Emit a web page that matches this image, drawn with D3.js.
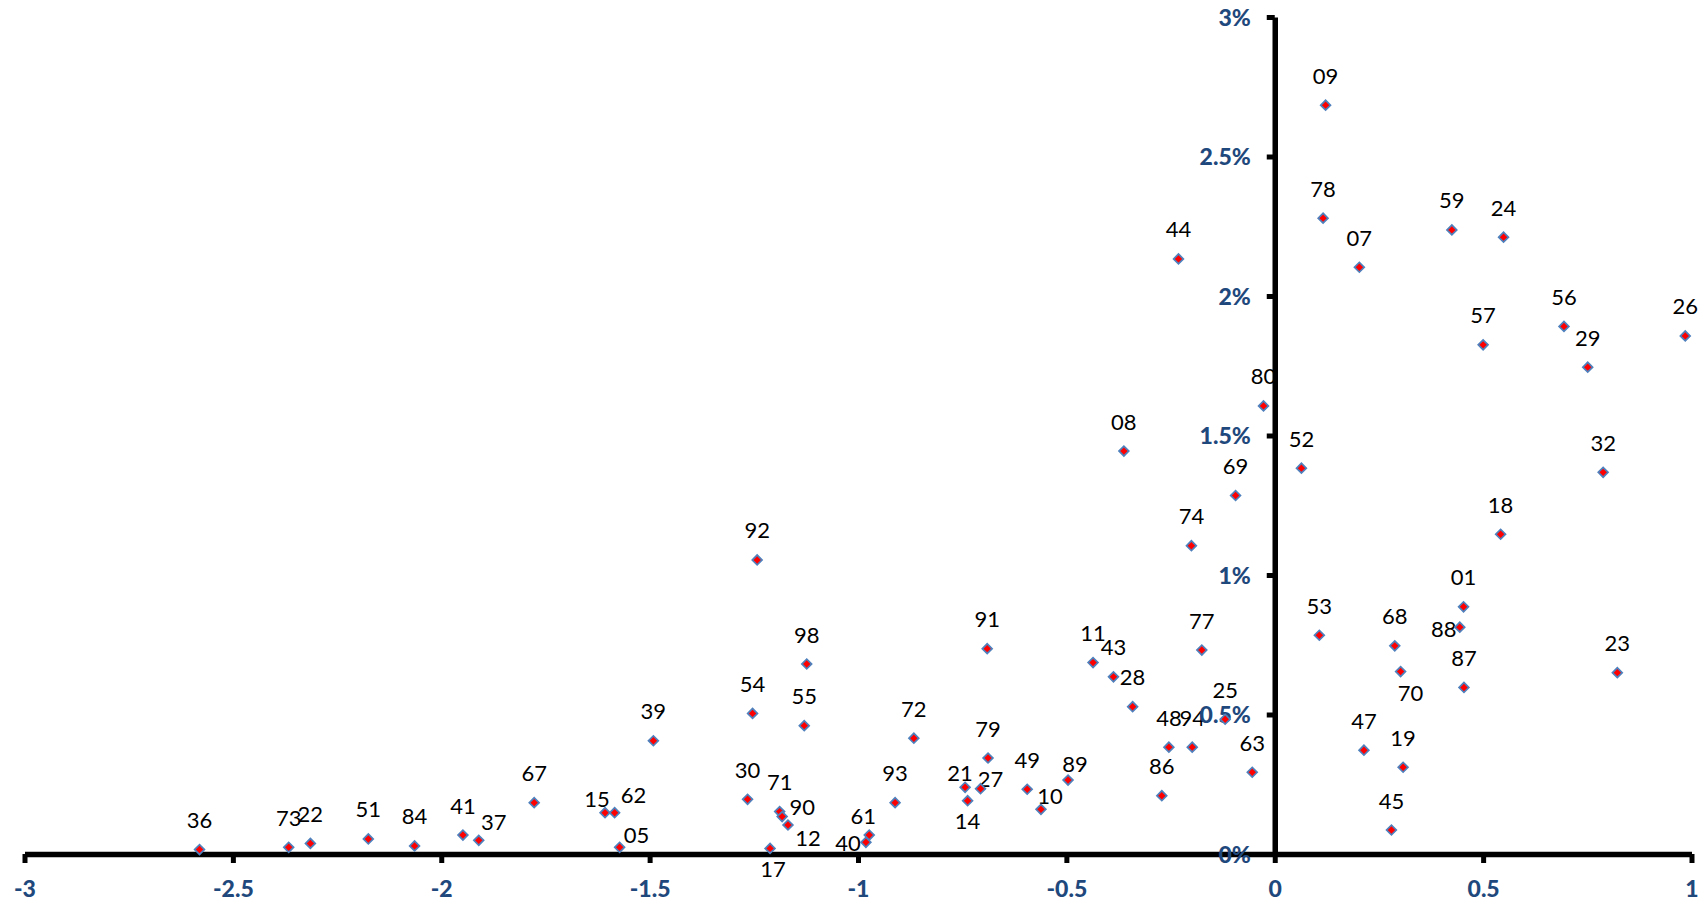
<!DOCTYPE html>
<html><head><meta charset="utf-8">
<script src="https://cdn.jsdelivr.net/npm/d3@7"></script>
<style>html,body{margin:0;padding:0;background:#fff;} svg{display:block;}</style>
</head><body>
<svg id="chart" width="1708" height="905"></svg>
<script>
// ---- data ----
const names = ["36","73","22","51","84","41","37","67","15","62","05","39","30","54","92","17","71","90","12","98","55","40","61","93","72","21","14","27","91","79","49","10","89","11","43","28","86","48","94","08","74","77","44","25","69","80","63","52","53","09","78","07","47","45","68","70","19","59","88","01","87","18","57","24","56","29","32","23","26"];
const xValues = [-2.580,-2.366,-2.314,-2.175,-2.064,-1.948,-1.910,-1.777,-1.607,-1.584,-1.572,-1.491,-1.265,-1.253,-1.242,-1.211,-1.188,-1.182,-1.168,-1.123,-1.129,-0.981,-0.973,-0.911,-0.866,-0.743,-0.737,-0.706,-0.690,-0.688,-0.594,-0.561,-0.496,-0.436,-0.387,-0.341,-0.271,-0.254,-0.198,-0.362,-0.200,-0.175,-0.231,-0.119,-0.094,-0.027,-0.054,0.064,0.107,0.122,0.116,0.203,0.214,0.280,0.288,0.302,0.308,0.425,0.444,0.453,0.454,0.542,0.500,0.549,0.694,0.751,0.788,0.822,0.985];
const yValues = [0.016,0.024,0.038,0.054,0.029,0.068,0.049,0.184,0.148,0.148,0.024,0.406,0.196,0.504,1.054,0.020,0.152,0.134,0.104,0.681,0.460,0.042,0.068,0.184,0.415,0.239,0.191,0.234,0.736,0.344,0.232,0.160,0.265,0.686,0.635,0.528,0.209,0.383,0.383,1.444,1.105,0.731,2.133,0.483,1.285,1.606,0.293,1.383,0.784,2.684,2.279,2.103,0.372,0.086,0.746,0.654,0.311,2.237,0.813,0.886,0.597,1.146,1.825,2.211,1.891,1.745,1.368,0.650,1.857];
const xTickValues = [-3,-2.5,-2,-1.5,-1,-0.5,0,0.5,1];
const xTickLabels = ["-3","-2.5","-2","-1.5","-1","-0.5","0","0.5","1"];
const yTickValues = [0,0.5,1,1.5,2,2.5,3];
const yTickLabels = ["0%","0.5%","1%","1.5%","2%","2.5%","3%"];

// ---- layout: data label placement (pixel offsets from marker) ----
const defaultShift = [0,-30];
const labelShift = {"17":[3,20],"12":[20,13],"90":[20,-10],"40":[-18,0],"61":[-6,-20],"21":[-5,-15],"27":[10,-10],"14":[0,20],"10":[9,-14],"89":[7,-17],"05":[17,-13],"62":[19,-18],"15":[-8,-14],"37":[15,-19],"70":[10,21],"88":[-16,1]};

const svg = d3.select("#chart");
svg.append("rect").attr("width",1708).attr("height",905).attr("fill","#fff");
const x = d3.scaleLinear().domain([-3,1]).range([24.5,1691.5]);
const y = d3.scaleLinear().domain([0,3]).range([854,17]);
const data = names.map((n,i)=>({name:n,x:xValues[i],y:yValues[i]}));
const shift = d => labelShift[d.name] || defaultShift;

// data labels
svg.append("g").selectAll("text").data(data).join("text")
  .attr("x", d=>x(d.x)+shift(d)[0])
  .attr("y", d=>y(d.y)+shift(d)[1])
  .attr("text-anchor","middle").attr("dominant-baseline","central")
  .style("font-family","Lato, 'Open Sans', sans-serif").style("font-size","22px").style("fill","#000")
  .text(d=>d.name);

const axisFont = g => g.style("font-family","Lato, 'Open Sans', sans-serif").style("font-size","23px").style("font-weight","900").attr("fill","#1F497D");

// x axis
const gx = svg.append("g").attr("transform",`translate(0,${y(0)})`)
  .call(d3.axisBottom(x).tickValues(xTickValues).tickFormat((d,i)=>xTickLabels[i]).tickSizeInner(9).tickSizeOuter(0));
gx.select(".domain").attr("stroke","#000").attr("stroke-width",5.5);
gx.selectAll(".tick line").attr("stroke","#000").attr("stroke-width",5);
gx.selectAll(".tick text").attr("y",35).attr("dy","0.35em").call(axisFont);

// y axis
const gy = svg.append("g").attr("transform",`translate(${x(0)},0)`)
  .call(d3.axisLeft(y).tickValues(yTickValues).tickFormat((d,i)=>yTickLabels[i]).tickSizeInner(8).tickSizeOuter(0));
gy.select(".domain").attr("stroke","#000").attr("stroke-width",5.5);
gy.selectAll(".tick line").attr("stroke","#000").attr("stroke-width",5);
gy.selectAll(".tick text").attr("x",-24).attr("dy","0.35em").call(axisFont);

// markers
const sym = d3.symbol().type(d3.symbolSquare).size(48);
svg.append("g").selectAll("path").data(data).join("path")
  .attr("d", sym)
  .attr("transform", d=>`translate(${x(d.x)},${y(d.y)}) rotate(45)`)
  .attr("fill","#FF0000").attr("stroke","#4F81BD").attr("stroke-width",1.7);
</script>
</body></html>
